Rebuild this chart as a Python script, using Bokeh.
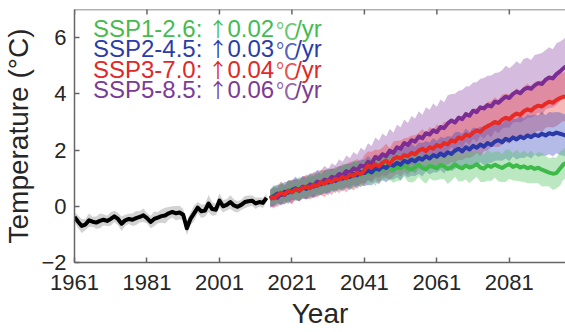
import numpy as np
from bokeh.plotting import figure
from bokeh.models import Range1d, FixedTicker, Label, Span
from bokeh.embed import file_html
from bokeh.resources import INLINE

# ---------------- data ----------------
hist_years = list(range(1961, 2015))
hist_mean = [-0.38, -0.55, -0.70, -0.65, -0.50, -0.55, -0.58, -0.52, -0.48, -0.52,
             -0.45, -0.36, -0.45, -0.62, -0.50, -0.45, -0.48, -0.42, -0.38, -0.32,
             -0.42, -0.56, -0.45, -0.40, -0.35, -0.33, -0.25, -0.20, -0.25, -0.22,
             -0.30, -0.78, -0.45, -0.25, -0.05, -0.18, -0.15, 0.10, -0.10, -0.12,
             0.20, 0.00, 0.05, 0.15, 0.03, -0.02, 0.05, 0.15, 0.18, 0.20,
             0.10, 0.15, 0.12, 0.30]
hist_spread = [0.18, 0.22, 0.25, 0.20, 0.24, 0.18, 0.22, 0.26, 0.20, 0.18,
               0.24, 0.20, 0.22, 0.26, 0.20, 0.18, 0.22, 0.25, 0.20, 0.24,
               0.18, 0.22, 0.26, 0.20, 0.24, 0.28, 0.22, 0.20, 0.26, 0.24,
               0.20, 0.25, 0.22, 0.28, 0.20, 0.24, 0.22, 0.30, 0.24, 0.20,
               0.26, 0.22, 0.20, 0.24, 0.22, 0.20, 0.18, 0.22, 0.20, 0.18,
               0.20, 0.16, 0.18, 0.15]

proj_years = list(range(2015, 2101))

ssp126_mean = [0.30, 0.42, 0.35, 0.50, 0.44, 0.55, 0.62, 0.52, 0.66, 0.60,
               0.72, 0.68, 0.80, 0.74, 0.86, 0.82, 0.95, 0.88, 1.00, 0.94,
               1.05, 1.12, 1.02, 1.15, 1.20, 1.10, 1.25, 1.18, 1.30, 1.22,
               1.38, 1.30, 1.44, 1.35, 1.30, 1.42, 1.36, 1.46, 1.35, 1.30,
               1.40, 1.48, 1.36, 1.32, 1.44, 1.40, 1.35, 1.47, 1.42, 1.33,
               1.38, 1.49, 1.40, 1.35, 1.45, 1.38, 1.42, 1.50, 1.38, 1.34,
               1.46, 1.40, 1.48, 1.42, 1.36, 1.44, 1.50, 1.40, 1.46, 1.38,
               1.42, 1.35, 1.40, 1.33, 1.37, 1.30, 1.25, 1.20, 1.16, 1.18,
               1.34, 1.50, 1.55, 1.48, 1.52, 1.50]
ssp126_spread = [0.28, 0.34, 0.30, 0.36, 0.32, 0.38, 0.30, 0.35, 0.40, 0.33,
                 0.36, 0.42, 0.34, 0.38, 0.44, 0.36, 0.40, 0.35, 0.42, 0.38,
                 0.45, 0.38, 0.42, 0.48, 0.40, 0.44, 0.38, 0.46, 0.42, 0.50,
                 0.44, 0.40, 0.48, 0.42, 0.46, 0.52, 0.44, 0.40, 0.48, 0.45,
                 0.50, 0.42, 0.46, 0.52, 0.44, 0.48, 0.42, 0.50, 0.46, 0.54,
                 0.48, 0.44, 0.52, 0.46, 0.50, 0.56, 0.48, 0.45, 0.52, 0.48,
                 0.55, 0.50, 0.46, 0.54, 0.50, 0.58, 0.52, 0.48, 0.55, 0.50,
                 0.56, 0.52, 0.58, 0.50, 0.55, 0.60, 0.54, 0.50, 0.58, 0.55,
                 0.60, 0.54, 0.58, 0.52, 0.56, 0.55]

ssp245_mean = [0.28, 0.36, 0.45, 0.40, 0.52, 0.48, 0.58, 0.64, 0.55, 0.68,
               0.62, 0.75, 0.70, 0.82, 0.78, 0.88, 0.84, 0.95, 0.90, 1.02,
               0.98, 1.08, 1.04, 1.15, 1.10, 1.22, 1.18, 1.28, 1.20, 1.35,
               1.30, 1.42, 1.36, 1.50, 1.44, 1.55, 1.48, 1.62, 1.56, 1.66,
               1.60, 1.72, 1.66, 1.78, 1.70, 1.82, 1.76, 1.88, 1.80, 1.92,
               1.86, 1.98, 2.05, 1.95, 2.10, 2.02, 2.15, 2.08, 2.20, 2.12,
               2.25, 2.18, 2.30, 2.35, 2.28, 2.40, 2.34, 2.45, 2.38, 2.48,
               2.42, 2.52, 2.46, 2.55, 2.50, 2.58, 2.52, 2.60, 2.56, 2.62,
               2.58, 2.54, 2.50, 2.55, 2.52, 2.50]
ssp245_spread = [0.30, 0.36, 0.32, 0.38, 0.34, 0.40, 0.35, 0.42, 0.36, 0.40,
                 0.38, 0.42, 0.38, 0.44, 0.37, 0.40, 0.45, 0.39, 0.43, 0.40,
                 0.45, 0.42, 0.47, 0.43, 0.48, 0.44, 0.47, 0.51, 0.46, 0.49,
                 0.52, 0.48, 0.51, 0.54, 0.49, 0.52, 0.56, 0.51, 0.54, 0.57,
                 0.52, 0.56, 0.59, 0.54, 0.57, 0.61, 0.56, 0.59, 0.63, 0.58,
                 0.61, 0.65, 0.60, 0.63, 0.67, 0.61, 0.65, 0.68, 0.63, 0.66,
                 0.70, 0.64, 0.68, 0.72, 0.66, 0.70, 0.74, 0.68, 0.72, 0.75,
                 0.70, 0.73, 0.76, 0.71, 0.74, 0.77, 0.72, 0.75, 0.78, 0.73,
                 0.76, 0.74, 0.77, 0.75, 0.76, 0.75]

ssp370_mean = [0.32, 0.28, 0.40, 0.48, 0.42, 0.55, 0.50, 0.60, 0.56, 0.65,
               0.70, 0.64, 0.76, 0.72, 0.85, 0.80, 0.92, 0.86, 0.98, 0.94,
               1.05, 1.00, 1.12, 1.08, 1.20, 1.14, 1.28, 1.45, 1.38, 1.50,
               1.42, 1.55, 1.62, 1.50, 1.68, 1.75, 1.70, 1.82, 1.78, 1.90,
               1.85, 1.98, 2.05, 1.96, 2.10, 2.05, 2.18, 2.12, 2.25, 2.20,
               2.35, 2.30, 2.45, 2.40, 2.55, 2.50, 2.62, 2.70, 2.65, 2.78,
               2.85, 2.92, 3.00, 2.95, 3.08, 3.15, 3.10, 3.22, 3.30, 3.25,
               3.38, 3.45, 3.40, 3.52, 3.58, 3.55, 3.65, 3.72, 3.68, 3.78,
               3.85, 3.90, 3.88, 3.95, 4.00, 4.05]
ssp370_spread = [0.30, 0.36, 0.32, 0.40, 0.34, 0.38, 0.42, 0.35, 0.40, 0.37,
                 0.43, 0.38, 0.45, 0.40, 0.44, 0.48, 0.42, 0.46, 0.40, 0.48,
                 0.44, 0.50, 0.46, 0.52, 0.48, 0.44, 0.54, 0.50, 0.56, 0.52,
                 0.58, 0.54, 0.60, 0.56, 0.62, 0.58, 0.64, 0.60, 0.66, 0.62,
                 0.68, 0.64, 0.70, 0.66, 0.72, 0.68, 0.74, 0.70, 0.76, 0.72,
                 0.78, 0.74, 0.80, 0.76, 0.82, 0.78, 0.84, 0.80, 0.86, 0.82,
                 0.86, 0.82, 0.88, 0.84, 0.90, 0.86, 0.88, 0.84, 0.90, 0.86,
                 0.88, 0.92, 0.86, 0.90, 0.88, 0.92, 0.86, 0.90, 0.88, 0.92,
                 0.90, 0.86, 0.92, 0.88, 0.90, 0.90]

ssp585_mean = [0.25, 0.35, 0.30, 0.45, 0.40, 0.55, 0.50, 0.62, 0.58, 0.70,
               0.66, 0.78, 0.74, 0.88, 0.82, 0.95, 0.90, 1.05, 1.00, 1.15,
               1.10, 1.25, 1.20, 1.35, 1.28, 1.45, 1.40, 1.58, 1.52, 1.75,
               1.68, 1.85, 1.78, 1.98, 1.90, 2.10, 2.05, 2.25, 2.18, 2.35,
               2.30, 2.48, 2.42, 2.60, 2.55, 2.70, 2.64, 2.82, 2.78, 2.95,
               3.05, 2.98, 3.15, 3.10, 3.28, 3.22, 3.40, 3.35, 3.52, 3.48,
               3.60, 3.55, 3.72, 3.68, 3.80, 3.90, 3.85, 4.00, 4.08, 4.02,
               4.15, 4.22, 4.18, 4.30, 4.38, 4.35, 4.50, 4.58, 4.55, 4.70,
               4.80, 4.92, 5.00, 5.05, 5.10, 5.15]
ssp585_spread = [0.30, 0.35, 0.32, 0.38, 0.34, 0.37, 0.41, 0.36, 0.40, 0.38,
                 0.42, 0.39, 0.45, 0.41, 0.44, 0.49, 0.43, 0.48, 0.45, 0.52,
                 0.48, 0.56, 0.52, 0.58, 0.55, 0.63, 0.58, 0.66, 0.62, 0.70,
                 0.66, 0.74, 0.70, 0.78, 0.72, 0.80, 0.76, 0.84, 0.78, 0.86,
                 0.82, 0.90, 0.84, 0.92, 0.88, 0.96, 0.90, 0.98, 0.92, 1.00,
                 0.94, 1.02, 0.96, 1.04, 0.98, 1.05, 1.00, 1.06, 1.02, 1.08,
                 1.04, 1.10, 1.02, 1.08, 1.04, 1.10, 1.06, 1.02, 1.08, 1.04,
                 1.10, 1.06, 1.02, 1.08, 1.04, 1.10, 1.06, 1.08, 1.04, 1.10,
                 1.06, 1.02, 1.08, 1.04, 1.06, 1.05]

scenario_names = ["SSP1-2.6:", "SSP2-4.5:", "SSP3-7.0:", "SSP5-8.5:"]
scenario_rates = ["0.02", "0.03", "0.04", "0.06"]
line_colors = ["#3dba4a", "#2b3aa8", "#e82a25", "#7b2d94"]
band_colors = ["#4cc25a", "#3a4bc0", "#ee4040", "#9150aa"]
text_colors = ["#46bb50", "#2c3ca8", "#e02828", "#7a3c96"]

x_ticks = [1961, 1981, 2001, 2021, 2041, 2061, 2081, 2101]
y_ticks = [-2, 0, 2, 4, 6]
X_MIN, X_MAX = 1961, 2096.5
Y_MIN, Y_MAX = -2, 7

means = [ssp126_mean, ssp245_mean, ssp370_mean, ssp585_mean]
spreads = [ssp126_spread, ssp245_spread, ssp370_spread, ssp585_spread]

# ---------------- figure ----------------
FONT = "Liberation Sans"
AX = "#666666"
TXT = "#262626"
p = figure(width=565, height=332, output_backend="svg", toolbar_location=None,
           x_range=Range1d(X_MIN, X_MAX), y_range=Range1d(Y_MIN, Y_MAX),
           min_border_left=68, min_border_right=0, min_border_top=9,
           min_border_bottom=70,
           x_axis_label="Year", y_axis_label="Temperature (°C)")
p.outline_line_color = None
p.grid.visible = False
p.background_fill_color = "white"
p.border_fill_color = "white"

for ax in (p.xaxis[0], p.yaxis[0]):
    ax.axis_line_color = AX
    ax.axis_line_width = 1.5
    ax.major_tick_line_color = AX
    ax.major_tick_line_width = 1.5
    ax.major_tick_in = 5
    ax.major_tick_out = 0
    ax.minor_tick_line_color = None
    ax.major_label_text_font = FONT
    ax.major_label_text_font_size = "22px"
    ax.major_label_text_color = TXT
    ax.axis_label_text_font = FONT
    ax.axis_label_text_font_size = "28px"
    ax.axis_label_text_font_style = "normal"
    ax.axis_label_text_color = TXT
    ax.axis_label_text_line_height = 1.0

p.xaxis[0].ticker = FixedTicker(ticks=x_ticks)
p.yaxis[0].ticker = FixedTicker(ticks=y_ticks)
p.xaxis[0].major_label_standoff = 12
p.xaxis[0].axis_label_standoff = 5
p.yaxis[0].major_label_standoff = 8
p.yaxis[0].axis_label_standoff = 4

# top frame edge with inward ticks (MATLAB-style box)
p.add_layout(Span(location=Y_MAX, dimension="width", line_color=AX, line_width=1.5))
p.scatter(x=x_ticks, y=[Y_MAX] * len(x_ticks), marker="dash", angle=np.pi / 2,
          size=10, line_color=AX, line_width=1.5)

# bands
p.varea(x=hist_years,
        y1=[m - s for m, s in zip(hist_mean, hist_spread)],
        y2=[m + s for m, s in zip(hist_mean, hist_spread)],
        fill_color="#b4b4b4", fill_alpha=0.6)
for i in [3, 2, 1, 0]:
    p.varea(x=proj_years,
            y1=[m - s for m, s in zip(means[i], spreads[i])],
            y2=[m + s for m, s in zip(means[i], spreads[i])],
            fill_color=band_colors[i], fill_alpha=0.38)

# lines
p.line(hist_years, hist_mean, line_color="black", line_width=4, line_join="round")
for i in [0, 1, 3, 2]:
    p.line(proj_years, means[i], line_color=line_colors[i], line_width=4,
           line_join="round")

# legend text
baselines = [6.31, 5.60, 4.88, 4.17]
for i in range(4):
    common = dict(y=baselines[i], text_color=text_colors[i],
                  text_baseline="alphabetic")
    p.add_layout(Label(x=1966.1, text=scenario_names[i], text_font=FONT,
                       text_font_size="24px", **common))
    p.add_layout(Label(x=2000.6, text="↑", text_font="Noto Sans CJK SC",
                       text_align="center", text_font_size="20px", **common))
    p.add_layout(Label(x=2003.2, text=scenario_rates[i], text_font=FONT,
                       text_font_size="24px", **common))
    p.add_layout(Label(x=2016.6, text="℃", text_font="Noto Sans CJK SC",
                       text_font_size="22px", text_alpha=0.8, **common))
    p.add_layout(Label(x=2021.9, text="/yr", text_font=FONT,
                       text_font_size="24px", **common))

open("out.html", "w").write(file_html(p, INLINE))
